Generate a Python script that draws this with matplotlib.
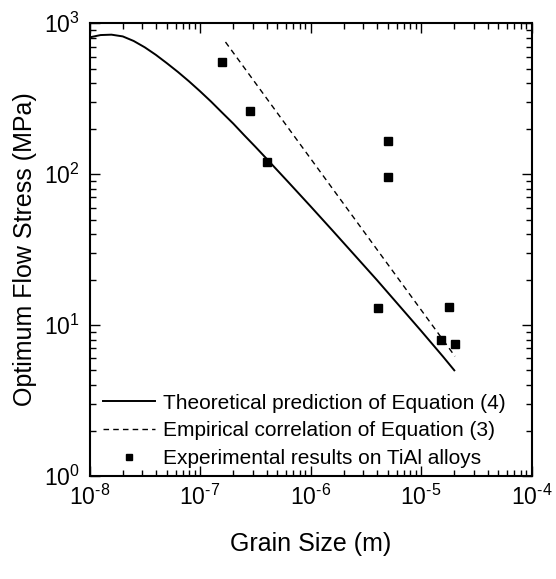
import math
import matplotlib
matplotlib.use("Agg")
import matplotlib.pyplot as plt
from matplotlib.ticker import FuncFormatter

plt.rcParams['font.family'] = ['Liberation Sans', 'DejaVu Sans']
plt.rcParams['mathtext.fontset'] = 'custom'
plt.rcParams['mathtext.rm'] = 'Liberation Sans'
plt.rcParams['mathtext.default'] = 'regular'

# theoretical curve, Equation (4)
d_theory = [1.0e-8, 1.26e-8, 1.58e-8, 2.0e-8, 2.51e-8, 3.16e-8, 3.98e-8,
            5.01e-8, 6.31e-8, 7.94e-8, 1.0e-7, 1.26e-7, 1.58e-7, 2.0e-7,
            2.51e-7, 3.16e-7, 3.98e-7, 6.31e-7, 1.0e-6, 1.58e-6, 2.51e-6,
            3.98e-6, 6.31e-6, 1.0e-5, 1.58e-5, 2.0e-5]
s_theory = [805, 834, 839, 817, 762, 692, 617,
            543, 475, 412, 354, 302, 256, 216,
            181, 152, 127, 88.3, 61.2, 42.3, 29.0,
            19.9, 13.5, 9.16, 6.18, 5.01]

# empirical correlation, Equation (3)
d_emp = [1.7e-7, 2.03e-5]
s_emp = [750, 6.2]

# experimental results on TiAl alloys
d_exp = [1.57e-7, 2.81e-7, 4.06e-7, 5.02e-6, 5.02e-6, 4.06e-6, 1.79e-5, 1.51e-5, 2.01e-5]
s_exp = [551, 263, 120, 166, 95, 13.0, 13.1, 7.98, 7.48]


def pow10(v, pos):
    e = int(round(math.log10(v)))
    if e < 0:
        return r'$10^{\text{-%d}}$' % (-e)
    return r'$10^{%d}$' % e


fig = plt.figure(figsize=(5.56, 5.79), dpi=100)
ax = fig.add_axes([0.161, 0.178, 0.795, 0.782])

ax.plot(d_theory, s_theory, 'k-', lw=1.4, label="Theoretical prediction of Equation (4)")
ax.plot(d_emp, s_emp, 'k--', lw=1.0, dashes=(4, 3), label="Empirical correlation of Equation (3)")
ax.plot(d_exp, s_exp, 'ks', ms=6.3, ls='none', label="Experimental results on TiAl alloys")

ax.set_xscale('log')
ax.set_yscale('log')
ax.set_xlim(1e-8, 1e-4)
ax.set_ylim(1, 1e3)
ax.xaxis.set_major_formatter(FuncFormatter(pow10))
ax.yaxis.set_major_formatter(FuncFormatter(pow10))

ax.tick_params(which='both', direction='in', top=True, right=True, labelsize=16.5, width=1.0)
ax.tick_params(which='major', length=7)
ax.tick_params(axis='x', which='major', pad=6)
ax.tick_params(axis='y', which='major', pad=7)
ax.tick_params(which='minor', length=4)
for sp in ax.spines.values():
    sp.set_linewidth(1.5)

ax.set_xlabel("Grain Size (m)", fontsize=18, labelpad=16)
ax.set_ylabel("Optimum Flow Stress (MPa)", fontsize=18, labelpad=5)

ax.legend(loc='lower left', bbox_to_anchor=(0.012, -0.001), frameon=False, fontsize=15,
          handlelength=2.5, handletextpad=0.35, labelspacing=0.42, borderaxespad=0.0,
          markerscale=0.75)

plt.savefig("out.png", dpi=100)
